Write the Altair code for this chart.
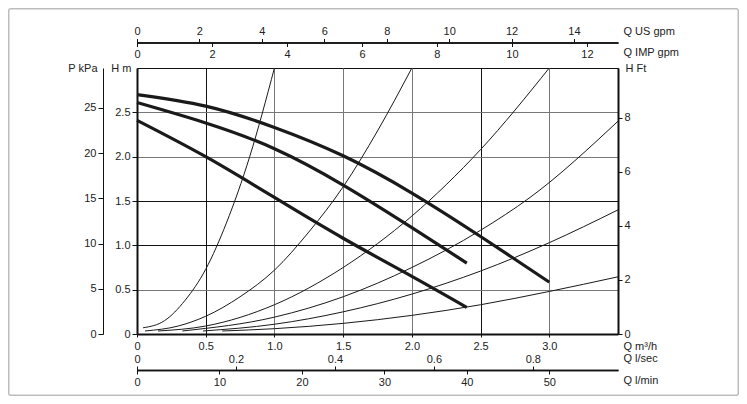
import altair as alt
import pandas as pd

# ---- Pump performance curves (thick): Q [m3/h] -> H [m]
pump1_q = [0, 0.5, 1.0, 1.5, 2.0, 2.5, 3.0]
pump1_h = [2.70, 2.57, 2.33, 2.01, 1.59, 1.10, 0.585]
pump2_q = [0, 0.5, 1.0, 1.5, 2.0, 2.4]
pump2_h = [2.61, 2.38, 2.09, 1.68, 1.20, 0.80]
pump3_q = [0, 0.5, 1.0, 1.5, 2.0, 2.4]
pump3_h = [2.41, 2.00, 1.54, 1.08, 0.65, 0.30]

# ---- System curves (thin)
sysA_q = [0.044, 0.2, 0.35, 0.5, 0.65, 0.82, 1.0]
sysA_h = [0.07, 0.15, 0.38, 0.73, 1.25, 2.0, 3.0]
sysB_q = [0.058, 0.3, 0.5, 0.75, 1.0, 1.25, 1.5, 1.75, 2.0]
sysB_h = [0.034, 0.09, 0.20, 0.42, 0.72, 1.15, 1.66, 2.29, 3.0]
sysC_q = [0.153, 0.5, 1.0, 1.5, 2.0, 2.5, 3.0]
sysC_h = [0.034, 0.09, 0.33, 0.75, 1.33, 2.08, 3.0]
sysD_q = [0.33, 1.0, 1.5, 2.0, 2.5, 2.86, 3.5]
sysD_h = [0.034, 0.19, 0.42, 0.75, 1.17, 1.54, 2.40]
sysE_q = [0.48, 1.0, 1.5, 2.0, 2.5, 3.0, 3.5]
sysE_h = [0.034, 0.11, 0.25, 0.45, 0.71, 1.03, 1.40]
sysF_q = [0.62, 1.0, 1.5, 2.0, 2.5, 3.0, 3.5]
sysF_h = [0.034, 0.06, 0.12, 0.21, 0.33, 0.48, 0.645]

# ---- Axis ranges and tick labels
q_m3h_max = 3.5
h_m_max = 3.0
p_kpa_max = 29.42
h_ft_max = 9.843
q_usgpm_max = 15.41
q_impgpm_max = 12.83
q_ls_max = 0.9722
q_lmin_max = 58.33

ticks_m3h = [0, 0.5, 1.0, 1.5, 2.0, 2.5, 3.0]
ticks_hm = [0, 0.5, 1.0, 1.5, 2.0, 2.5]
ticks_kpa = [0, 5, 10, 15, 20, 25]
ticks_ft = [0, 2, 4, 6, 8]
ticks_usgpm = [0, 2, 4, 6, 8, 10, 12, 14]
ticks_impgpm = [0, 2, 4, 6, 8, 10, 12]
ticks_ls = [0, 0.2, 0.4, 0.6, 0.8]
ticks_lmin = [0, 10, 20, 30, 40, 50]


def build(series_list):
    rows = []
    for name, qs, hs in series_list:
        for i, (q, h) in enumerate(zip(qs, hs)):
            rows.append({"series": name, "Q": q, "H": h, "order": i})
    return pd.DataFrame(rows)


pump_df = build([("p1", pump1_q, pump1_h), ("p2", pump2_q, pump2_h), ("p3", pump3_q, pump3_h)])
sys_df = build([("sA", sysA_q, sysA_h), ("sB", sysB_q, sysB_h), ("sC", sysC_q, sysC_h),
                ("sD", sysD_q, sysD_h), ("sE", sysE_q, sysE_h), ("sF", sysF_q, sysF_h)])

W, H = 481, 266
PAD_L, PAD_T = 129, 60
CANVAS_W, CANVAS_H = 731, 388

xgrid = {"condition": {"test": "datum.value == 0.5 || datum.value == 2.5", "value": "#111"}, "value": "#777"}
ygrid = {"condition": {"test": "datum.value == 1.0 || datum.value == 1.5", "value": "#111"}, "value": "#777"}
zero_fmt = "datum.value == 0 ? '0' : format(datum.value, '.1f')"

frame = alt.Chart(pd.DataFrame({"a": [0]})).mark_rect(
    filled=False, stroke="#bdbdbd", strokeWidth=1.5, cornerRadius=2
).encode(
    x=alt.value(-PAD_L + 0.75), x2=alt.value(CANVAS_W - PAD_L - 0.75),
    y=alt.value(-PAD_T + 0.75), y2=alt.value(CANVAS_H - PAD_T - 0.75),
)

xscale = alt.Scale(domain=[0, q_m3h_max], nice=False)
yscale = alt.Scale(domain=[0, h_m_max], nice=False)

system = alt.Chart(sys_df).mark_line(interpolate="monotone", color="#1a1a1a", strokeWidth=1.0).encode(
    x=alt.X("Q:Q", scale=xscale,
            axis=alt.Axis(orient="bottom", values=ticks_m3h, labelExpr=zero_fmt,
                          grid=True, gridColor=xgrid, gridWidth=1,
                          domainWidth=2, domainColor="#111", tickSize=3, labelPadding=3,
                          title="Q m³/h", titleX=486, titleY=12, titleAlign="left",
                          titleBaseline="middle")),
    y=alt.Y("H:Q", scale=yscale,
            axis=alt.Axis(orient="left", values=ticks_hm, labelExpr=zero_fmt,
                          grid=True, gridColor=ygrid, gridWidth=1,
                          domainWidth=2, domainColor="#111", tickSize=5, labelPadding=2,
                          title="H m", titleX=-6, titleY=0, titleAngle=0, titleAlign="right",
                          titleBaseline="middle")),
    detail="series:N",
    order="order:Q",
)

pumps = alt.Chart(pump_df).mark_line(interpolate="natural", color="#1a1a1a", strokeWidth=3.2, strokeCap="butt").encode(
    x=alt.X("Q:Q", scale=xscale, axis=None),
    y=alt.Y("H:Q", scale=yscale, axis=None),
    detail="series:N",
    order="order:Q",
)


def ylayer(vals, dmax, axis):
    return alt.Chart(pd.DataFrame({"v": vals})).mark_point(opacity=0).encode(
        y=alt.Y("v:Q", scale=alt.Scale(domain=[0, dmax], nice=False), axis=axis)
    )


def xlayer(vals, dmax, axis):
    return alt.Chart(pd.DataFrame({"v": vals})).mark_point(opacity=0).encode(
        x=alt.X("v:Q", scale=alt.Scale(domain=[0, dmax], nice=False), axis=axis)
    )


p_layer = ylayer(ticks_kpa, p_kpa_max, alt.Axis(
    orient="left", offset=34, values=ticks_kpa, grid=False, tickSize=5, labelPadding=2,
    domainWidth=1, title="P kPa", titleX=-6, titleY=0, titleAngle=0, titleAlign="right",
    titleBaseline="middle"))

ft_layer = ylayer(ticks_ft, h_ft_max, alt.Axis(
    orient="right", offset=0, values=ticks_ft, grid=False, tickSize=4, labelPadding=2,
    domainWidth=2, title="H Ft", titleX=7, titleY=0, titleAngle=0, titleAlign="left",
    titleBaseline="middle"))

us_layer = xlayer(ticks_usgpm, q_usgpm_max, alt.Axis(
    orient="top", offset=25.5, values=ticks_usgpm, grid=False, tickSize=4, labelPadding=2,
    domainWidth=1.5, title="Q US gpm", titleX=486, titleY=-11, titleAlign="left",
    titleBaseline="middle"))

imp_layer = xlayer(ticks_impgpm, q_impgpm_max, alt.Axis(
    orient="bottom", offset=-291.5, values=ticks_impgpm, grid=False, tickSize=4, labelPadding=2,
    domainWidth=1.5, title="Q IMP gpm", titleX=486, titleY=10, titleAlign="left",
    titleBaseline="middle"))

ls_layer = xlayer(ticks_ls, q_ls_max, alt.Axis(
    orient="top", offset=-302, values=ticks_ls, labelExpr="datum.value == 0 ? '0' : format(datum.value, '.1f')",
    grid=False, tickSize=4, labelPadding=2,
    domainWidth=1.5, title="Q l/sec", titleX=486, titleY=-12, titleAlign="left",
    titleBaseline="middle"))

lm_layer = xlayer(ticks_lmin, q_lmin_max, alt.Axis(
    orient="bottom", offset=36, values=ticks_lmin, grid=False, tickSize=4, labelPadding=2,
    domainWidth=1.5, title="Q l/min", titleX=486, titleY=10, titleAlign="left",
    titleBaseline="middle"))

chart = alt.layer(
    frame, system, pumps, p_layer, ft_layer, us_layer, imp_layer, ls_layer, lm_layer
).resolve_scale(x="independent", y="independent").properties(
    width=W, height=H,
    padding={"left": PAD_L, "top": PAD_T, "right": CANVAS_W - PAD_L - W, "bottom": CANVAS_H - PAD_T - H},
    autosize=alt.AutoSizeParams(type="none"),
).configure_view(stroke="#111", strokeWidth=1).configure_axis(
    labelFont="Liberation Sans", titleFont="Liberation Sans", labelFontSize=11, titleFontSize=11,
    titleFontWeight="normal", labelColor="#222", titleColor="#222", tickColor="#111",
    domainColor="#111", labelFlush=False, labelOverlap=False,
)

chart.save("out.html", embed_options={"renderer": "svg", "actions": False})
